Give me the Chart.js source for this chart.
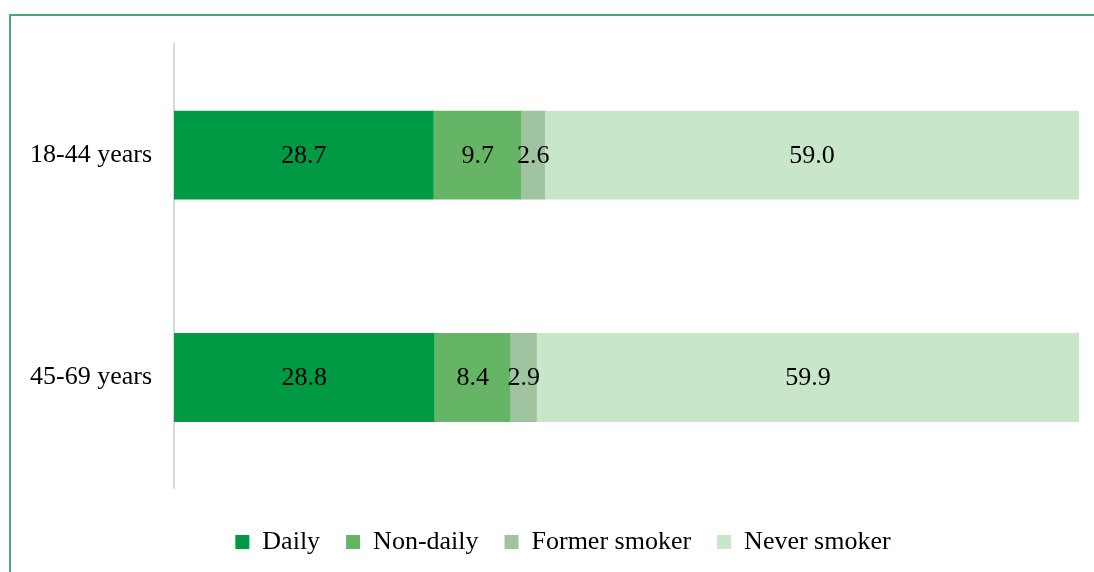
<!DOCTYPE html>
<html>
<head>
<meta charset="utf-8">
<script src="https://cdn.jsdelivr.net/npm/chart.js@4"></script>
<style>
  html, body { margin: 0; padding: 0; background: #fff; }
  body { width: 1094px; height: 572px; position: relative; overflow: hidden; }
  #frame { position: absolute; left: 9px; top: 14px; width: 1200px; height: 700px; border: 2px solid #4ca87a; }
  #chart { position: absolute; left: 0; top: 0; }
</style>
</head>
<body>
<div id="frame"></div>
<canvas id="chart" width="1094" height="572"></canvas>
<script>
// ================== DATA ==================
const ageGroups = ['18-44 years', '45-69 years'];
const seriesNames = ['Daily', 'Non-daily', 'Former smoker', 'Never smoker'];
const daily = [28.7, 28.8];
const nonDaily = [9.7, 8.4];
const formerSmoker = [2.6, 2.9];
const neverSmoker = [59.0, 59.9];
const seriesColors = ['#009944', '#66b466', '#a0c4a0', '#c8e6c9'];

const FONT = 'Liberation Serif, Times New Roman, serif';

// draw the value in the middle of every segment
const segmentLabels = {
  id: 'segmentLabels',
  afterLayout(chart) {
    // left padding only centres the legend; let the y labels use that space
    chart.scales.y.left = 0;
  },
  afterDatasetsDraw(chart) {
    const ctx = chart.ctx;
    ctx.save();
    ctx.font = '26px ' + FONT;
    ctx.fillStyle = '#000';
    ctx.textAlign = 'center';
    ctx.textBaseline = 'middle';
    chart.data.datasets.forEach((ds, i) => {
      chart.getDatasetMeta(i).data.forEach((bar, j) => {
        const cx = (bar.x + bar.base) / 2;
        ctx.fillText(ds.data[j].toFixed(1), cx, bar.y + 1);
      });
    });
    ctx.restore();
  }
};

const allSeries = [daily, nonDaily, formerSmoker, neverSmoker];

new Chart(document.getElementById('chart').getContext('2d'), {
  type: 'bar',
  data: {
    labels: ageGroups,
    datasets: seriesNames.map((name, i) => ({
      label: name,
      data: allSeries[i],
      backgroundColor: seriesColors[i],
      borderWidth: 0,
      categoryPercentage: 0.4,
      barPercentage: 1.0
    }))
  },
  options: {
    indexAxis: 'y',
    responsive: false,
    animation: false,
    layout: { padding: { left: 47, right: 15, top: 44, bottom: 7 } },
    scales: {
      x: {
        stacked: true,
        min: 0,
        max: 100,
        display: false
      },
      y: {
        stacked: true,
        grid: { display: false, drawTicks: false },
        border: { display: true, color: '#d9d9d9', width: 2 },
        ticks: { color: '#000', padding: 22, font: { family: FONT, size: 26 } },
        afterFit(scale) { scale.width = 127; }
      }
    },
    plugins: {
      tooltip: { enabled: false },
      legend: {
        position: 'bottom',
        // blank title only pushes the legend row down a little
        title: { display: true, text: ' ', padding: 0, font: { size: 12 } },
        labels: {
          color: '#000',
          boxWidth: 14,
          boxHeight: 14,
          padding: 26,
          font: { family: FONT, size: 26 }
        }
      }
    }
  },
  plugins: [segmentLabels]
});
</script>
</body>
</html>
